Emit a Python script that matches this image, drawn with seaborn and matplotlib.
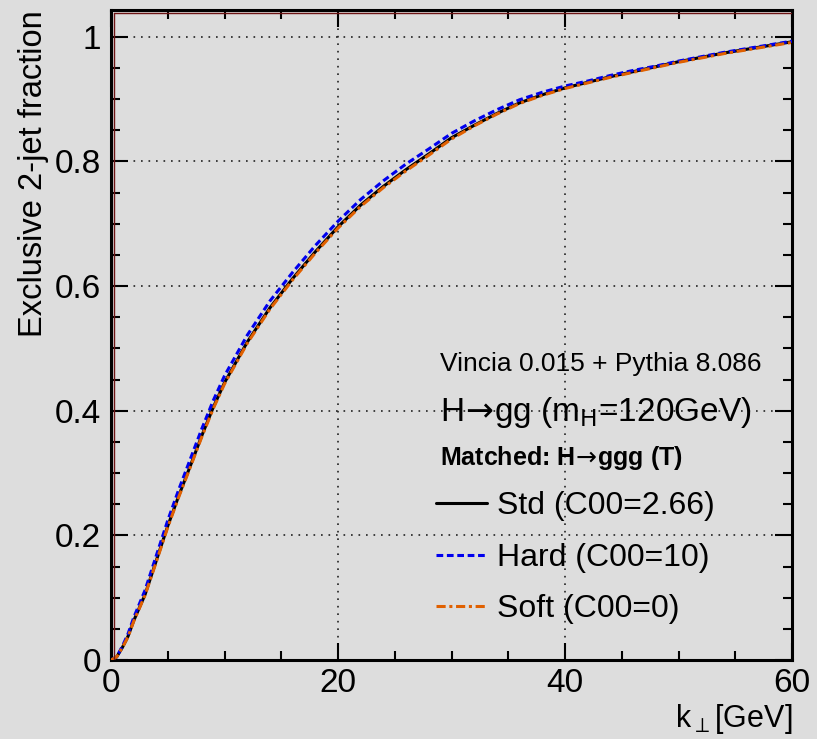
import numpy as np
import pandas as pd
import matplotlib
matplotlib.use("Agg")
import matplotlib.pyplot as plt
import seaborn as sns
from matplotlib.lines import Line2D

# ---- data ----
kt = [0, 0.5, 1, 1.5, 2, 3, 4, 5, 6, 7, 8, 9, 10, 12, 14, 16, 18, 20, 22, 24, 26, 28,
      30, 32, 34, 36, 38, 40, 42, 44, 46, 48, 50, 52, 54, 56, 58, 60]
std = [0, 0.005, 0.02, 0.038, 0.063, 0.105, 0.16, 0.215, 0.265, 0.312, 0.36, 0.405, 0.445,
       0.51, 0.565, 0.612, 0.655, 0.695, 0.73, 0.76, 0.787, 0.812,
       0.838, 0.858, 0.877, 0.894, 0.907, 0.918, 0.927, 0.936, 0.944, 0.952, 0.960,
       0.967, 0.974, 0.980, 0.986, 0.992]
hard = [0, 0.005, 0.022, 0.042, 0.068, 0.112, 0.168, 0.224, 0.275, 0.323, 0.371, 0.416, 0.456,
        0.521, 0.576, 0.622, 0.665, 0.704, 0.739, 0.769, 0.796, 0.820,
        0.845, 0.865, 0.883, 0.899, 0.911, 0.921, 0.929, 0.938, 0.946, 0.953, 0.961,
        0.968, 0.975, 0.981, 0.987, 0.993]
soft = [0, 0.005, 0.02, 0.037, 0.062, 0.104, 0.158, 0.213, 0.263, 0.310, 0.358, 0.403, 0.443,
        0.508, 0.563, 0.610, 0.653, 0.693, 0.728, 0.758, 0.785, 0.810,
        0.836, 0.857, 0.876, 0.893, 0.906, 0.917, 0.926, 0.935, 0.943, 0.951, 0.959,
        0.966, 0.973, 0.979, 0.985, 0.991]
labels = ["Std (C00=2.66)", "Hard (C00=10)", "Soft (C00=0)"]
colors = ["#000000", "#0000ee", "#e06000"]

xticks = [0, 20, 40, 60]
yticks = [0, 0.2, 0.4, 0.6, 0.8, 1.0]
ytick_labels = ["0", "0.2", "0.4", "0.6", "0.8", "1"]

sns.set_theme(style="ticks")
plt.rcParams["font.family"] = ["Liberation Sans", "DejaVu Sans"]
plt.rcParams["mathtext.fontset"] = "dejavusans"
plt.rcParams["text.color"] = "black"
plt.rcParams["axes.labelcolor"] = "black"
plt.rcParams["xtick.color"] = "black"
plt.rcParams["ytick.color"] = "black"

BG = "#dddddd"
fig = plt.figure(figsize=(8.17, 7.39), dpi=100, facecolor=BG)
ax = fig.add_axes([111 / 817, 1 - 660 / 739, 681 / 817, 650 / 739])
ax.set_facecolor(BG)

styles = ["-", (0, (2.2, 1.2)), (0, (3, 1.2, 1, 1.2))]
df = pd.DataFrame({"kt": kt * 3,
                   "frac": std + hard + soft,
                   "set": [labels[0]] * len(kt) + [labels[1]] * len(kt) + [labels[2]] * len(kt)})
handles = []
for lab, col, ls in zip(labels, colors, styles):
    sub = df[df["set"] == lab]
    sns.lineplot(data=sub, x="kt", y="frac", ax=ax, color=col, linewidth=2.2,
                 linestyle=ls, legend=False, zorder=3)
    handles.append(Line2D([], [], color=col, lw=2.2, linestyle=ls))

ax.set_xlim(0, 60)
ax.set_ylim(0, 1.043)
ax.set_xticks(xticks)
ax.set_xticklabels([str(v) for v in xticks])
ax.set_yticks(yticks)
ax.set_yticklabels(ytick_labels)
ax.set_xticks(np.arange(0, 61, 5), minor=True)
ax.set_yticks(np.arange(0, 1.01, 0.05), minor=True)
ax.tick_params(which="both", direction="in", top=True, right=True, width=1.5, color="black")
ax.tick_params(which="major", length=12)
ax.tick_params(which="minor", length=6.5)
ax.tick_params(axis="x", labelsize=24, pad=6)
ax.tick_params(axis="y", labelsize=24, pad=7)
ax.grid(which="major", linestyle=(0, (1, 3.5)), color="#222222", linewidth=1.2)
for s in ax.spines.values():
    s.set_linewidth(2.2)
    s.set_color("black")

# dark red inner frame lines (left, top)
ax.plot([0.004, 0.004], [0, 0.995], transform=ax.transAxes, color="#6e1414", lw=1.0, zorder=4)
ax.plot([0.004, 1.0], [0.995, 0.995], transform=ax.transAxes, color="#6e1414", lw=1.0, zorder=4)

ax.set_xlabel("k$_{\\perp}$[GeV]", fontsize=22, loc="right", labelpad=2)
ax.set_ylabel("Exclusive 2-jet fraction", fontsize=23.5, loc="top", labelpad=4)

def axx(px):
    return (px - 111) / 681

def axy(py):
    return (660 - py) / 650

ax.text(axx(440), axy(364), "Vincia 0.015 + Pythia 8.086", transform=ax.transAxes,
        fontsize=19, va="center", ha="left")
ax.text(axx(440), axy(412), "H$\\!\\rightarrow\\!$gg (m$_{\\mathrm{H}}$=120GeV)", transform=ax.transAxes,
        fontsize=24, va="center", ha="left")
ax.text(axx(440), axy(458), "Matched: H$\\!\\rightarrow\\!$ggg (T)", transform=ax.transAxes,
        fontsize=18, fontweight="bold", va="center", ha="left")

leg = ax.legend(handles, labels, loc="upper left", bbox_to_anchor=(axx(436), axy(491)),
                frameon=False, fontsize=23, handlelength=1.6, handletextpad=0.3,
                labelspacing=0.68, borderpad=0, borderaxespad=0)

fig.savefig("out.png", dpi=100, facecolor=BG)
